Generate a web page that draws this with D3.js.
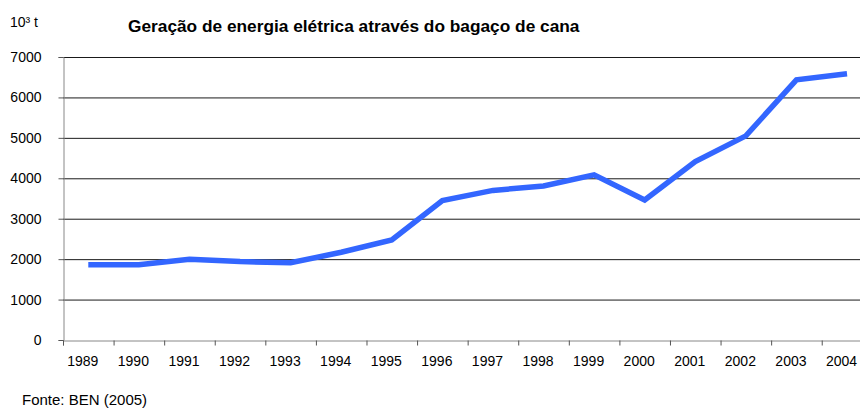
<!DOCTYPE html>
<html><head><meta charset="utf-8">
<script src="https://cdn.jsdelivr.net/npm/d3@7"></script>
<style>body{margin:0;background:#fff}svg{display:block}text{font-family:"Liberation Sans",Arial,sans-serif}</style>
</head><body>
<svg id="c" width="860" height="408"></svg>
<script>
const years = ["1989","1990","1991","1992","1993","1994","1995","1996","1997","1998","1999","2000","2001","2002","2003","2004"];
const values = [1860,1860,2000,1940,1910,2170,2475,3450,3700,3810,4085,3465,4415,5050,6435,6585];
const yTicks = [0,1000,2000,3000,4000,5000,6000,7000];
const title = "Geração de energia elétrica através do bagaço de cana";
const unitLabel = "10³ t";
const source = "Fonte: BEN (2005)";

const svg = d3.select("#c");
const mLeft = 63, mRight = 872.3, mTop = 57, mBottom = 340;
const x = d3.scaleBand().domain(years).range([mLeft, mRight]).padding(0);
const xb = d3.scaleLinear().domain([0, years.length]).range([mLeft, mRight]);
const y = d3.scaleLinear().domain([0, 7000]).range([mBottom, mTop]);

// gridlines
svg.append("g").selectAll("line").data(yTicks.filter(d=>d>0)).join("line")
  .attr("x1", mLeft).attr("x2", 860).attr("y1", d=>y(d)+0.5).attr("y2", d=>y(d)+0.5)
  .attr("stroke", "#1a1a1a").attr("stroke-width", 1);

// y axis
const ya = svg.append("g").attr("transform", `translate(${mLeft+0.5},0)`)
  .call(d3.axisLeft(y).tickValues(yTicks).tickSize(5).tickPadding(17).tickFormat(d3.format("d")));
ya.select(".domain").attr("stroke", "#888");
ya.selectAll(".tick line").attr("stroke", "#555");
ya.selectAll("text").attr("font-size", 14).attr("font-family", "Liberation Sans, Arial, sans-serif").attr("fill", "#000");

// x axis boundary ticks
const xa = svg.append("g").attr("transform", `translate(0,${mBottom+0.5})`)
  .call(d3.axisBottom(xb).tickValues(d3.range(years.length+1)).tickSize(5).tickFormat(""));
xa.select(".domain").attr("stroke", "#888");
xa.selectAll(".tick line").attr("stroke", "#555");

// x labels
const xl = svg.append("g").attr("transform", `translate(-5.5,${mBottom+0.5})`)
  .call(d3.axisBottom(x).tickSize(0).tickPadding(16));
xl.select(".domain").remove();
xl.selectAll("text").attr("font-size", 14).attr("font-family", "Liberation Sans, Arial, sans-serif").attr("fill", "#000");

// line
svg.append("path").datum(values)
  .attr("fill", "none").attr("stroke", "#3366ff").attr("stroke-width", 5.5)
  .attr("stroke-linejoin", "miter")
  .attr("d", d3.line().x((d,i)=>x(years[i]) + x.bandwidth()/2).y(d=>y(d)));

svg.append("text").attr("x", 128).attr("y", 32).attr("font-size", 17.3).attr("font-weight", "bold").text(title);
svg.append("text").attr("x", 10).attr("y", 27).attr("font-size", 14).text(unitLabel);
svg.append("text").attr("x", 22).attr("y", 404.5).attr("font-size", 15).text(source);
</script>
</body></html>
